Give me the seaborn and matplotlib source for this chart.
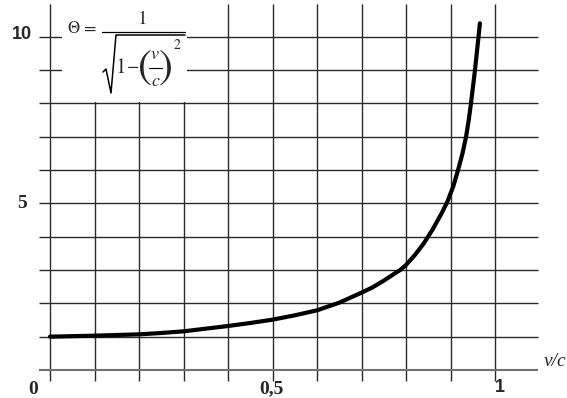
import numpy as np
import pandas as pd
import matplotlib
matplotlib.use("Agg")
import matplotlib.pyplot as plt
import seaborn as sns
from matplotlib.patches import Rectangle
from matplotlib.lines import Line2D

# curve (v/c -> Theta)
v_over_c = [0.0, 0.1, 0.2, 0.25, 0.3, 0.35, 0.4, 0.45, 0.5, 0.55, 0.6,
            0.65, 0.7, 0.725, 0.75, 0.775, 0.787, 0.8, 0.82, 0.84, 0.86,
            0.88, 0.893, 0.906, 0.917, 0.927, 0.935, 0.941, 0.946, 0.951,
            0.955, 0.959, 0.963, 0.966]
theta = [1.0, 1.03, 1.07, 1.11, 1.16, 1.24, 1.32, 1.41, 1.51, 1.64, 1.79,
         2.02, 2.32, 2.48, 2.68, 2.9, 3.0, 3.15, 3.45, 3.8, 4.22,
         4.7, 5.05, 5.5, 6.0, 6.5, 7.0, 7.5, 8.0, 8.55,
         9.0, 9.5, 10.0, 10.4]

x_grid = [i / 10 for i in range(11)]
y_grid = list(range(11))

df = pd.DataFrame({"v": v_over_c, "theta": theta})

sns.set_style("white")

W, H = 567, 398
fig = plt.figure(figsize=(W / 100, H / 100), dpi=100)
ax = fig.add_axes([0, 0, 1, 1])
ax.set_xlim(-0.1124, 1.1618)
ax.set_ylim(-0.84, 11.1)
ax.axis("off")

# grid
ax.vlines(x_grid, -0.33, 10.98, color="#2a2a2a", lw=1.0, zorder=1)
ax.hlines(y_grid[1:], -0.025, 1.097, color="#2a2a2a", lw=1.0, zorder=1)
ax.hlines(0, -0.025, 1.097, color="#707070", lw=1.5, zorder=1)

# white box behind the formula
ax.add_patch(Rectangle((0.028, 8.04), 0.28, 3.2, facecolor="white",
                       edgecolor="none", zorder=2))

sns.lineplot(data=df, x="v", y="theta", ax=ax, color="black", lw=3,
             zorder=3, legend=False)


# formula pieces placed in pixel units of the figure
def fpos(px, py):
    return px / W, 1 - py / H


def ftext(px, py, s, size, **kw):
    fig.text(*fpos(px, py), s, fontsize=size, family="STIXGeneral",
             ha="center", va="center", zorder=5, **kw)


def fline(pts, lw=0.9):
    xs = [p[0] / W for p in pts]
    ys = [1 - p[1] / H for p in pts]
    fig.add_artist(Line2D(xs, ys, color="black", lw=lw, zorder=5))


ftext(73, 29, "\u0398", 12)
ftext(89, 30, "=", 13)
ftext(143, 19, "1", 14)
fline([(102, 32), (185, 32)])
fline([(103, 72), (106, 69), (111, 93), (116, 35), (185, 35)], lw=1.1)
ftext(121, 68, "1", 15)
ftext(133, 68, "\u2212", 13)
ftext(145, 69, "(", 30)
ftext(155, 55, "v", 13, style="italic")
fline([(149, 68), (162, 68)], lw=0.8)
ftext(155, 82, "c", 13, style="italic")
ftext(166, 69, ")", 30)
ftext(177, 45, "2", 10)

# tick labels
ax.text(-0.063, 10.05, "10", fontsize=13, fontweight="bold",
        family="Liberation Sans", ha="center", va="center")
ax.text(-0.063, 5.0, "5", fontsize=14, fontweight="bold",
        family="Liberation Serif", ha="center", va="center")
ax.text(-0.038, -0.57, "0", fontsize=14, fontweight="bold",
        family="Liberation Serif", ha="center", va="center")
ax.text(0.497, -0.57, "0,5", fontsize=14, fontweight="bold",
        family="Liberation Serif", ha="center", va="center")
ax.text(1.01, -0.54, "1", fontsize=13, fontweight="bold",
        family="Liberation Sans", ha="center", va="center")
ax.text(1.135, 0.24, "v/c", fontsize=14, style="italic",
        family="Liberation Serif", ha="center", va="center")

fig.savefig("out.png", dpi=100, facecolor="white")
